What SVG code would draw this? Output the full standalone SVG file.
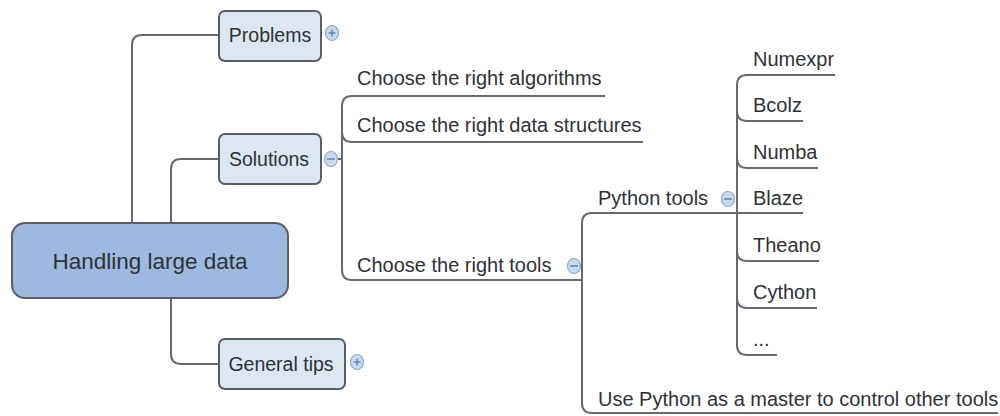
<svg xmlns="http://www.w3.org/2000/svg" width="1000" height="416" viewBox="0 0 1000 416">
  <style>
    .box { fill: #dde7f3; stroke: #5a5f66; stroke-width: 2; }
    .root { fill: #9db9df; stroke: #5a5f66; stroke-width: 2; }
    .line { fill: none; stroke: #666a70; stroke-width: 2; }
    .lbl { font-family: "Liberation Sans", Arial, sans-serif; fill: #2e3236; }
    .t20 { font-size: 20px; }
    .tbox { font-size: 19.5px; text-anchor: middle; }
    .troot { font-size: 22.5px; text-anchor: middle; }
    .ico { fill: #c6daf0; stroke: #8fabc9; stroke-width: 1.2; }
    .sign { stroke: #5f82aa; stroke-width: 1.5; }
  </style>
  <defs>
    <g id="plus">
      <ellipse class="ico" cx="0" cy="0" rx="6.5" ry="7.5"/>
      <line class="sign" x1="-3.5" y1="0" x2="3.5" y2="0"/>
      <line class="sign" x1="0" y1="-3.5" x2="0" y2="3.5"/>
    </g>
    <g id="minus">
      <ellipse class="ico" cx="0" cy="0" rx="6.5" ry="7.5"/>
      <line class="sign" x1="-4" y1="0" x2="4" y2="0"/>
    </g>
  </defs>

  <!-- connectors -->
  <g id="connectors">
    <path class="line" d="M219,35 H142 Q132,35 132,45 V223"/>
    <path class="line" d="M219,159 H181 Q171,159 171,169 V223"/>
    <path class="line" d="M171,298 V354 Q171,364 181,364 H219"/>
    <path class="line" d="M337,159 H342"/>
    <path class="line" d="M605,96 H352 Q342,96 342,106 V270 Q342,280 352,280 H582"/>
    <path class="line" d="M342,132 Q342,142 352,142 H643"/>
    <path class="line" d="M737,213 H592 Q582,213 582,223 V403 Q582,413 592,413 H998"/>
    <path class="line" d="M835,75 H747 Q737,75 737,85 V345 Q737,355 747,355 H777"/>
    <path class="line" d="M737,111 Q737,121 747,121 H803"/>
    <path class="line" d="M737,158 Q737,168 747,168 H818"/>
    <path class="line" d="M737,213 H803"/>
    <path class="line" d="M737,251 Q737,261 747,261 H819"/>
    <path class="line" d="M737,298 Q737,308 747,308 H817"/>
  </g>

  <g id="root">
    <rect class="root" x="12" y="223" width="276" height="75" rx="13"/>
    <text class="lbl troot" x="150" y="269">Handling large data</text>
  </g>

  <g id="problems">
    <rect class="box" x="219" y="11" width="102" height="50" rx="6"/>
    <text class="lbl tbox" x="270" y="42">Problems</text>
    <use href="#plus" x="332" y="33"/>
  </g>

  <g id="solutions">
    <rect class="box" x="219" y="134" width="102" height="50" rx="6"/>
    <text class="lbl tbox" x="269" y="166">Solutions</text>
    <use href="#minus" x="331" y="159"/>
  </g>

  <g id="general-tips">
    <rect class="box" x="219" y="339" width="126" height="50" rx="6"/>
    <text class="lbl tbox" x="281" y="371">General tips</text>
    <use href="#plus" x="357" y="362"/>
  </g>

  <g id="algorithms">
    <text class="lbl t20" x="357" y="85">Choose the right algorithms</text>
  </g>
  <g id="data-structures">
    <text class="lbl t20" x="357" y="132">Choose the right data structures</text>
  </g>
  <g id="tools">
    <text class="lbl t20" x="357" y="272">Choose the right tools</text>
    <use href="#minus" x="574" y="266"/>
  </g>

  <g id="python-tools">
    <text class="lbl t20" x="598" y="205">Python tools</text>
    <use href="#minus" x="728" y="199"/>
  </g>
  <g id="python-master">
    <text class="lbl t20" x="598" y="406">Use Python as a master to control other tools</text>
  </g>

  <g id="numexpr"><text class="lbl t20" x="753" y="66">Numexpr</text></g>
  <g id="bcolz"><text class="lbl t20" x="753" y="112">Bcolz</text></g>
  <g id="numba"><text class="lbl t20" x="753" y="159">Numba</text></g>
  <g id="blaze"><text class="lbl t20" x="753" y="205">Blaze</text></g>
  <g id="theano"><text class="lbl t20" x="753" y="252">Theano</text></g>
  <g id="cython"><text class="lbl t20" x="753" y="299">Cython</text></g>
  <g id="more"><text class="lbl t20" x="753" y="346">...</text></g>
</svg>
